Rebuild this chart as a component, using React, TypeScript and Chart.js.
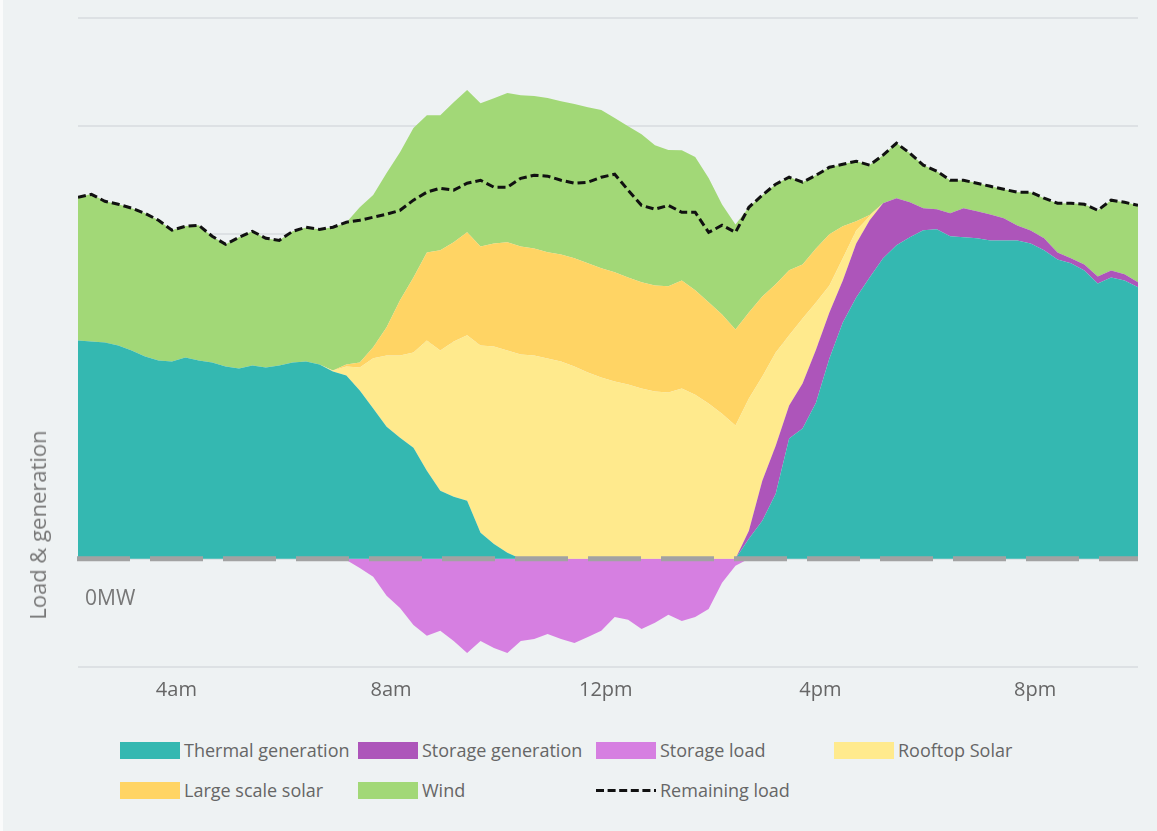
import React, { useEffect, useRef } from 'react';
import { Chart, registerables } from 'chart.js';

Chart.register(...registerables);

// Time axis (hours of day), 15-minute intervals from 2:10am
const START_HOUR = 2 + 10 / 60;
const STEP_HOURS = 0.25;
const POINT_COUNT = 80;
const TIMES = Array.from({ length: POINT_COUNT }, (_, i) => START_HOUR + i * STEP_HOURS);

const TICK_HOURS = [4, 8, 12, 16, 20];
const TICK_LABELS = ['4am', '8am', '12pm', '4pm', '8pm'];

// Series values (MW)
const THERMAL = [
  1009, 1005, 1000, 986, 963, 935, 917, 912, 931, 917,
  907, 889, 880, 894, 884, 894, 907, 912, 898, 866,
  847, 778, 695, 611, 560, 514, 407, 315, 287, 269,
  120, 69, 28, 0, 0, 0, 0, 0, 0, 0,
  0, 0, 0, 0, 0, 0, 0, 0, 0, 0,
  93, 176, 301, 556, 602, 722, 926, 1093, 1208, 1301,
  1389, 1449, 1486, 1519, 1523, 1491, 1486, 1482, 1472, 1472,
  1472, 1458, 1426, 1384, 1366, 1333, 1273, 1301, 1287, 1255,
];

const STORAGE_GEN = [
  0, 0, 0, 0, 0, 0, 0, 0, 0, 0,
  0, 0, 0, 0, 0, 0, 0, 0, 0, 0,
  0, 0, 0, 0, 0, 0, 0, 0, 0, 0,
  0, 0, 0, 0, 0, 0, 0, 0, 0, 0,
  0, 0, 0, 0, 0, 0, 0, 0, 0, 0,
  37, 185, 222, 153, 208, 245, 213, 194, 250, 264,
  255, 218, 162, 102, 93, 106, 134, 125, 120, 102,
  69, 60, 56, 32, 23, 28, 32, 32, 28, 23,
];

const STORAGE_LOAD = [
  0, 0, 0, 0, 0, 0, 0, 0, 0, 0,
  0, 0, 0, 0, 0, 0, 0, 0, 0, 0,
  -5, -42, -83, -171, -227, -306, -356, -333, -380, -435,
  -380, -412, -435, -380, -370, -347, -370, -389, -361, -333,
  -269, -282, -324, -296, -259, -287, -269, -232, -111, -32,
  0, 0, 0, 0, 0, 0, 0, 0, 0, 0,
  0, 0, 0, 0, 0, 0, 0, 0, 0, 0,
  0, 0, 0, 0, 0, 0, 0, 0, 0, 0,
];

const ROOFTOP_SOLAR = [
  0, 0, 0, 0, 0, 0, 0, 0, 0, 0,
  0, 0, 0, 0, 0, 0, 0, 0, 0, 5,
  42, 106, 232, 329, 380, 440, 602, 648, 718, 764,
  866, 912, 935, 944, 940, 926, 912, 889, 861, 838,
  820, 806, 787, 773, 769, 787, 759, 718, 671, 616,
  611, 482, 431, 324, 301, 218, 125, 102, 60, 19,
  0, 0, 0, 0, 0, 0, 0, 0, 0, 0,
  0, 0, 0, 0, 0, 0, 0, 0, 0, 0,
];

const LARGE_SOLAR = [
  0, 0, 0, 0, 0, 0, 0, 0, 0, 0,
  0, 0, 0, 0, 0, 0, 0, 0, 0, 0,
  9, 23, 51, 130, 255, 347, 407, 463, 458, 477,
  458, 477, 500, 500, 495, 491, 495, 500, 505, 505,
  505, 495, 491, 491, 491, 500, 482, 468, 458, 444,
  398, 370, 315, 301, 250, 250, 236, 148, 42, 5,
  0, 0, 0, 0, 0, 0, 0, 0, 0, 0,
  0, 0, 0, 0, 0, 0, 0, 0, 0, 0,
];

const WIND = [
  662, 681, 653, 653, 657, 662, 648, 607, 607, 625,
  583, 565, 607, 620, 597, 579, 607, 620, 625, 662,
  657, 718, 704, 713, 685, 690, 634, 625, 648, 657,
  662, 671, 690, 699, 704, 713, 708, 713, 722, 732,
  713, 699, 685, 648, 630, 602, 616, 574, 509, 486,
  486, 468, 463, 431, 380, 338, 310, 287, 278, 231,
  222, 255, 227, 199, 176, 153, 130, 130, 130, 134,
  153, 176, 185, 227, 255, 278, 306, 324, 333, 357,
];

const REMAINING_LOAD = [
  1671, 1685, 1653, 1639, 1621, 1597, 1565, 1519, 1537, 1542,
  1491, 1454, 1486, 1514, 1482, 1472, 1514, 1533, 1523, 1533,
  1556, 1565, 1579, 1593, 1611, 1658, 1695, 1713, 1704, 1736,
  1750, 1718, 1718, 1759, 1773, 1769, 1750, 1736, 1741, 1764,
  1778, 1704, 1634, 1616, 1634, 1602, 1602, 1509, 1542, 1509,
  1625, 1681, 1732, 1764, 1741, 1773, 1810, 1824, 1838, 1820,
  1866, 1921, 1875, 1820, 1792, 1750, 1750, 1736, 1722, 1708,
  1695, 1695, 1667, 1644, 1644, 1639, 1611, 1658, 1648, 1634,
];

const Y_MIN = -500;
const Y_MAX = 2500;
const Y_STEP = 500;

const COLORS = {
  thermal: '#34b8b1',
  storageGen: '#ad55ba',
  storageLoad: '#d67fe1',
  rooftop: '#ffea8d',
  large: '#ffd464',
  wind: '#a2d877',
  load: '#111111',
};

const LEGEND_ITEMS = [
  { label: 'Thermal generation', color: COLORS.thermal, col: 0, row: 0 },
  { label: 'Storage generation', color: COLORS.storageGen, col: 1, row: 0 },
  { label: 'Storage load', color: COLORS.storageLoad, col: 2, row: 0 },
  { label: 'Rooftop Solar', color: COLORS.rooftop, col: 3, row: 0 },
  { label: 'Large scale solar', color: COLORS.large, col: 0, row: 1 },
  { label: 'Wind', color: COLORS.wind, col: 1, row: 1 },
  { label: 'Remaining load', color: COLORS.load, col: 2, row: 1, dashed: true },
];

const BG = '#eef2f3';
const FONT = "'Open Sans', 'Noto Sans', sans-serif";

const toXY = (vals: number[]) => vals.map((y, i) => ({ x: TIMES[i], y }));

const zeroLinePlugin = {
  id: 'zeroLine',
  afterDatasetsDraw(chart: any) {
    const { ctx, chartArea, scales } = chart;
    const y = scales.y.getPixelForValue(0);
    ctx.save();
    ctx.strokeStyle = '#a2a2a2';
    ctx.lineWidth = 5;
    ctx.setLineDash([53, 20]);
    ctx.beginPath();
    ctx.moveTo(chartArea.left - 1, y);
    ctx.lineTo(chartArea.right, y);
    ctx.stroke();
    ctx.restore();
  },
};

export default function App() {
  const canvasRef = useRef<HTMLCanvasElement | null>(null);

  useEffect(() => {
    if (!canvasRef.current) return;
    Chart.defaults.font.family = FONT;
    const area = (label: string, data: number[], color: string, fill: any, stack: string) => ({
      label,
      data: toXY(data),
      backgroundColor: color,
      borderColor: color,
      borderWidth: 0,
      pointRadius: 0,
      fill,
      stack,
      tension: 0,
    });
    const chart = new Chart(canvasRef.current, {
      type: 'line',
      data: {
        datasets: [
          area('Thermal generation', THERMAL, COLORS.thermal, 'origin', 'gen'),
          area('Storage generation', STORAGE_GEN, COLORS.storageGen, '-1', 'gen'),
          area('Rooftop Solar', ROOFTOP_SOLAR, COLORS.rooftop, '-1', 'gen'),
          area('Large scale solar', LARGE_SOLAR, COLORS.large, '-1', 'gen'),
          area('Wind', WIND, COLORS.wind, '-1', 'gen'),
          area('Storage load', STORAGE_LOAD, COLORS.storageLoad, 'origin', 'neg'),
          {
            label: 'Remaining load',
            data: toXY(REMAINING_LOAD),
            borderColor: COLORS.load,
            backgroundColor: COLORS.load,
            borderWidth: 3,
            borderDash: [8, 4],
            pointRadius: 0,
            fill: false,
            stack: 'load',
            tension: 0,
            order: -1,
          } as any,
        ],
      },
      options: {
        animation: false,
        responsive: false,
        maintainAspectRatio: false,
        events: [],
        layout: { padding: { left: 78, right: 19, top: 18, bottom: 0 } },
        plugins: {
          legend: { display: false },
          tooltip: { enabled: false },
        },
        scales: {
          x: {
            type: 'linear',
            min: TIMES[0],
            max: TIMES[TIMES.length - 1],
            grid: { display: false, drawTicks: false },
            border: { display: false },
            afterBuildTicks: (scale: any) => {
              scale.ticks = TICK_HOURS.map((v) => ({ value: v }));
            },
            afterFit: (scale: any) => {
              scale.height = 53;
            },
            ticks: {
              autoSkip: false,
              maxRotation: 0,
              padding: 11,
              color: '#666666',
              font: { size: 20, family: FONT },
              callback: (v: any) => {
                const i = TICK_HOURS.indexOf(Number(v));
                return i >= 0 ? TICK_LABELS[i] : '';
              },
            },
          },
          y: {
            stacked: true,
            min: Y_MIN,
            max: Y_MAX,
            ticks: { display: false, stepSize: Y_STEP },
            grid: { color: '#dde1e4', lineWidth: 2, drawTicks: false },
            border: { display: false },
          },
        },
      },
      plugins: [zeroLinePlugin],
    });
    return () => chart.destroy();
  }, []);

  return (
    <div
      style={{
        position: 'absolute',
        left: 0,
        top: 0,
        width: 1157,
        height: 831,
        background: BG,
        borderLeft: '3px solid #fafbfb',
        boxSizing: 'border-box',
        overflow: 'hidden',
        fontFamily: FONT,
      }}
    >
      <canvas
        ref={canvasRef}
        width={1157}
        height={720}
        style={{ position: 'absolute', left: -3, top: 0, width: 1157, height: 720 }}
      />
      <div
        style={{
          position: 'absolute',
          left: 37 - 3,
          top: 525,
          transform: 'translate(-50%, -50%) rotate(-90deg)',
          whiteSpace: 'nowrap',
          fontSize: 22,
          color: '#777777',
        }}
      >
        Load &amp; generation
      </div>
      <div
        style={{
          position: 'absolute',
          left: 85 - 3,
          top: 587,
          fontSize: 21,
          lineHeight: 1,
          color: '#777777',
        }}
      >
        0MW
      </div>
      {LEGEND_ITEMS.map((item) => {
        const left = 120 + item.col * 238 - 3;
        const cy = 750 + item.row * 40;
        return (
          <div key={item.label} style={{ position: 'absolute', left, top: cy - 12, height: 24, display: 'flex', alignItems: 'center' }}>
            {item.dashed ? (
              <svg width={60} height={17} style={{ display: 'block' }}>
                <line x1={0} y1={8.5} x2={60} y2={8.5} stroke={item.color} strokeWidth={3} strokeDasharray="8 3.6" />
              </svg>
            ) : (
              <div style={{ width: 60, height: 17, background: item.color }} />
            )}
            <span style={{ marginLeft: 4, fontSize: 18, color: '#666666', whiteSpace: 'nowrap' }}>{item.label}</span>
          </div>
        );
      })}
    </div>
  );
}
